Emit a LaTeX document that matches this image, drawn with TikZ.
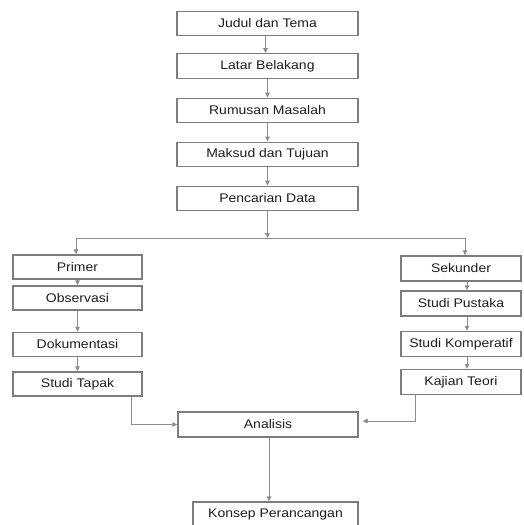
\documentclass[tikz,border=0pt]{standalone}
\usepackage{fontspec}
\setmainfont[FakeStretch=1.12]{Liberation Sans}
\usetikzlibrary{arrows.meta}
\definecolor{boxgray}{RGB}{125,125,125}
\definecolor{linegray}{RGB}{140,140,140}
\definecolor{txt}{RGB}{30,30,30}
\begin{document}
\begin{tikzpicture}[x=1pt,y=-1pt,
  stepbox/.style={draw=boxgray, line width=1.4pt, fill=white, inner sep=0pt,
    text=txt, font=\fontsize{12.5}{14}\selectfont},
  topbox/.style={stepbox, minimum width=181pt, minimum height=24.5pt},
  leftbox/.style={stepbox, minimum width=129pt, minimum height=24pt},
  rightbox/.style={stepbox, minimum width=120pt, minimum height=25pt},
  conn/.style={draw=linegray, line width=0.9pt, -{Triangle[length=5pt,width=4.5pt]}},
  plain/.style={draw=linegray, line width=0.9pt}]
\clip (0,0) rectangle (523,525);
\fill[white] (0,0) rectangle (523,525);
% top column
\node[topbox] (jud) at (267.5,23.5) {Judul dan Tema};
\node[topbox] (lat) at (267.5,66) {Latar Belakang};
\node[topbox] (rum) at (267.5,110.5) {Rumusan Masalah};
\node[topbox] (mak) at (267.5,154.5) {Maksud dan Tujuan};
\node[topbox] (pen) at (267.5,198.5) {Pencarian Data};
% left column
\node[leftbox] (pri) at (77.5,267) {Primer};
\node[leftbox] (obs) at (77.5,298) {Observasi};
\node[leftbox] (dok) at (77.5,344.5) {Dokumentasi};
\node[leftbox] (tap) at (77.5,384) {Studi Tapak};
% right column
\node[rightbox] (sek) at (461,268.5) {Sekunder};
\node[rightbox] (pus) at (461,303.5) {Studi Pustaka};
\node[rightbox] (kom) at (461,344) {Studi Komperatif};
\node[rightbox] (kaj) at (461,382) {Kajian Teori};
% bottom
\node[stepbox, minimum width=180pt, minimum height=25pt] (ana) at (268,424.5) {Analisis};
\node[stepbox, minimum width=165pt, minimum height=25pt] (kon) at (275.5,514.5) {Konsep Perancangan};
% connectors top
\draw[conn] ([xshift=-2pt]jud.south) -- ([xshift=-2pt]lat.north);
\draw[conn] (lat.south) -- (lat.south |- rum.north);
\draw[conn] (rum.south) -- (mak.north);
\draw[conn] (mak.south) -- (pen.north);
\coordinate (split) at (267.5,238);
\coordinate (splitL) at (76,238);
\coordinate (splitR) at (465,238);
\draw[conn] (pen.south) -- (split);
\draw[plain] (splitL) -- (splitR);
\draw[conn] (splitL) -- (splitL |- pri.north);
\draw[conn] (splitR) -- (splitR |- sek.north);
% left inner
\draw[conn] (pri.south) -- (obs.north);
\draw[conn] (obs.south) -- (dok.north);
\draw[conn] (dok.south) -- (tap.north);
% right inner
\draw[conn] ([xshift=6pt]sek.south) -- ([xshift=6pt]pus.north);
\draw[conn] ([xshift=6pt]pus.south) -- ([xshift=6pt]kom.north);
\draw[conn] ([xshift=6pt]kom.south) -- ([xshift=6pt]kaj.north);
% to analisis
\draw[conn] ([xshift=53.5pt]tap.south) |- (ana.west);
\draw[conn] ([xshift=-46pt]kaj.south) |- ([xshift=4pt,yshift=3.5pt]ana.east);
\draw[conn] ([xshift=1pt]ana.south) -- ([xshift=1pt]ana.south |- kon.north);
\end{tikzpicture}
\end{document}
